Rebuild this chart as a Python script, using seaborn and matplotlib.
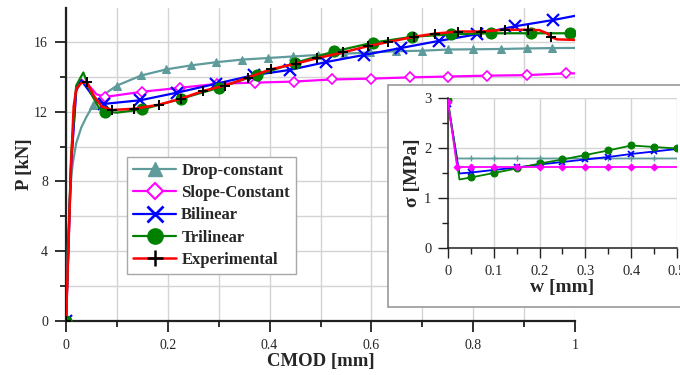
import numpy as np
import matplotlib
matplotlib.use('Agg')
import matplotlib.pyplot as plt
from matplotlib.lines import Line2D
from matplotlib.patches import Rectangle
from matplotlib.ticker import MultipleLocator, FuncFormatter
import seaborn as sns

sns.set_theme(style='white')
plt.rcParams['font.family'] = ['Liberation Serif', 'DejaVu Serif']

# ---- main chart: P vs CMOD ----
drop_x = [0, 0.004, 0.008, 0.013, 0.02, 0.03, 0.04, 0.053, 0.075, 0.1, 0.148, 0.197, 0.246,
          0.295, 0.346, 0.396, 0.446, 0.496, 0.547, 0.598, 0.649, 0.70, 0.751, 0.80, 0.854,
          0.905, 0.955, 1.0]
drop_y = [0, 4.5, 7.5, 9.0, 10.2, 11.1, 11.7, 12.36, 13.0, 13.5, 14.08, 14.43, 14.66,
          14.84, 14.99, 15.08, 15.17, 15.26, 15.33, 15.4, 15.47, 15.5, 15.57, 15.58, 15.6,
          15.63, 15.65, 15.66]
drop_mk = [0, 7] + list(range(9, 27))

slope_x = [0, 0.01, 0.02, 0.03, 0.045, 0.06, 0.077, 0.15, 0.223, 0.297, 0.371, 0.447, 0.522,
           0.6, 0.675, 0.75, 0.828, 0.905, 0.982, 1.0]
slope_y = [0, 9.0, 13.3, 13.85, 13.5, 13.0, 12.85, 13.15, 13.37, 13.6, 13.67, 13.73, 13.85,
           13.9, 13.97, 14.02, 14.07, 14.1, 14.2, 14.2]
slope_mk = [0] + list(range(6, 19))

bi_x = [0, 0.01, 0.02, 0.03, 0.045, 0.06, 0.075, 0.146, 0.219, 0.294, 0.369, 0.44, 0.511,
        0.586, 0.659, 0.732, 0.807, 0.882, 0.957, 1.0]
bi_y = [0, 9.0, 13.2, 13.8, 13.2, 12.6, 12.45, 12.66, 13.1, 13.6, 14.1, 14.4, 14.85,
        15.26, 15.66, 16.06, 16.44, 16.9, 17.26, 17.5]
bi_mk = [0] + list(range(6, 19))

tri_x = [0, 0.01, 0.02, 0.034, 0.05, 0.065, 0.077, 0.1, 0.15, 0.225, 0.3, 0.375, 0.45,
         0.527, 0.603, 0.68, 0.757, 0.834, 0.913, 0.99, 1.0]
tri_y = [0, 9.5, 13.5, 14.25, 13.0, 12.2, 12.0, 11.95, 12.13, 12.74, 13.37, 14.1, 14.8,
         15.46, 15.96, 16.3, 16.44, 16.5, 16.5, 16.5, 16.5]
tri_mk = [0, 6] + list(range(8, 20))

exp_x = [0, 0.005, 0.01, 0.015, 0.02, 0.03, 0.041, 0.055, 0.07, 0.09, 0.133, 0.182, 0.225,
         0.27, 0.312, 0.357, 0.402, 0.452, 0.493, 0.544, 0.593, 0.633, 0.684, 0.724, 0.771,
         0.815, 0.862, 0.907, 0.93, 0.945, 0.953, 0.965, 1.0]
exp_y = [0, 4.5, 9.0, 12.3, 13.3, 13.65, 13.7, 12.9, 12.3, 12.1, 12.17, 12.4, 12.74,
         13.2, 13.5, 13.96, 14.43, 14.76, 15.07, 15.4, 15.76, 16.0, 16.3, 16.48, 16.6,
         16.6, 16.7, 16.7, 16.68, 16.5, 16.28, 16.15, 16.12]
exp_mk = [0, 6] + list(range(9, 28)) + [30]

# ---- inset: sigma vs w ----
in_drop_w = [0, 0.02, 0.05, 0.1, 0.15, 0.2, 0.25, 0.3, 0.35, 0.4, 0.45, 0.5]
in_drop_s = [2.9, 1.79, 1.79, 1.79, 1.79, 1.79, 1.79, 1.79, 1.79, 1.79, 1.79, 1.79]
in_slope_w = [0, 0.02, 0.05, 0.1, 0.15, 0.2, 0.25, 0.3, 0.35, 0.4, 0.45, 0.5]
in_slope_s = [2.92, 1.62, 1.62, 1.62, 1.62, 1.62, 1.62, 1.62, 1.62, 1.62, 1.62, 1.62]
in_bi_w = [0, 0.025, 0.05, 0.1, 0.15, 0.2, 0.25, 0.3, 0.35, 0.4, 0.45, 0.5]
in_bi_s = [2.88, 1.49, 1.51, 1.56, 1.61, 1.67, 1.72, 1.77, 1.82, 1.88, 1.93, 1.98]
in_tri_w = [0, 0.025, 0.05, 0.1, 0.15, 0.2, 0.25, 0.3, 0.35, 0.4, 0.45, 0.5]
in_tri_s = [2.95, 1.37, 1.41, 1.5, 1.59, 1.69, 1.77, 1.86, 1.95, 2.05, 2.02, 1.99]

C_DROP = '#5f9b9b'
C_SLOPE = '#ff00ff'
C_BI = '#0000ff'
C_TRI = '#008000'
C_EXP = '#ff0000'
GRID = '#d4d4d4'
fmt = FuncFormatter(lambda v, p: f'{v:g}')

fig = plt.figure(figsize=(6.8, 3.75), dpi=100)
ax = fig.add_axes([0.0971, 0.144, 0.7485, 0.8347])

sns.lineplot(x=drop_x, y=drop_y, ax=ax, color=C_DROP, lw=1.6, marker='^', markersize=6,
             markevery=drop_mk, markeredgecolor=C_DROP, markerfacecolor=C_DROP, zorder=3)
sns.lineplot(x=slope_x, y=slope_y, ax=ax, color=C_SLOPE, lw=1.6, marker='D', markersize=5,
             markevery=slope_mk, markeredgecolor=C_SLOPE, markerfacecolor='white',
             markeredgewidth=1.2, zorder=3)
sns.lineplot(x=bi_x, y=bi_y, ax=ax, color=C_BI, lw=1.6, marker='x', markersize=8,
             markevery=bi_mk, markeredgecolor=C_BI, markeredgewidth=1.6, zorder=3)
sns.lineplot(x=tri_x, y=tri_y, ax=ax, color=C_TRI, lw=1.6, marker='o', markersize=8,
             markevery=tri_mk, markeredgecolor=C_TRI, markerfacecolor=C_TRI, zorder=3)
sns.lineplot(x=exp_x, y=exp_y, ax=ax, color=C_EXP, lw=1.8, marker='+', markersize=7,
             markevery=exp_mk, markeredgecolor='black', markeredgewidth=1.4, zorder=4)

ax.set_xlim(0, 1)
ax.set_ylim(0, 17.95)
ax.xaxis.set_major_locator(MultipleLocator(0.2))
ax.xaxis.set_minor_locator(MultipleLocator(0.1))
ax.yaxis.set_major_locator(MultipleLocator(4))
ax.yaxis.set_minor_locator(MultipleLocator(2))
ax.xaxis.set_major_formatter(fmt)
ax.grid(True, which='both', color=GRID, lw=1.0)
ax.set_axisbelow(True)
for s in ['top', 'right']:
    ax.spines[s].set_visible(False)
for s in ['left', 'bottom']:
    ax.spines[s].set_color('#202020')
    ax.spines[s].set_linewidth(1.6)
ax.tick_params(which='major', direction='out', length=8, width=1.3, color='#202020',
               labelsize=10, pad=5, left=True, bottom=True)
ax.tick_params(which='minor', direction='out', length=4, width=1.3, color='#202020',
               left=True, bottom=True)
ax.set_xlabel('CMOD [mm]', fontsize=13.5, fontweight='bold', labelpad=1)
ax.set_ylabel('P [kN]', fontsize=13.5, fontweight='bold', labelpad=1)

handles = [
    Line2D([], [], color=C_DROP, lw=1.6, marker='^', markersize=10, mfc=C_DROP, mec=C_DROP),
    Line2D([], [], color=C_SLOPE, lw=1.6, marker='D', markersize=8, mfc='white', mec=C_SLOPE, mew=1.5),
    Line2D([], [], color=C_BI, lw=1.6, marker='x', markersize=11, mec=C_BI, mew=2),
    Line2D([], [], color=C_TRI, lw=1.6, marker='o', markersize=11, mfc=C_TRI, mec=C_TRI),
    Line2D([], [], color=C_EXP, lw=1.8, marker='+', markersize=12, mec='black', mew=1.8),
]
labels = ['Drop-constant', 'Slope-Constant', 'Bilinear', 'Trilinear', 'Experimental']
leg = ax.legend(handles, labels, loc='upper left', bbox_to_anchor=(0.12, 0.524),
                borderaxespad=0, fancybox=False, framealpha=1, edgecolor='#a8a8a8',
                prop={'weight': 'bold', 'size': 12}, handlelength=2.6, handletextpad=0.3,
                labelspacing=0.38, borderpad=0.35)
leg.get_frame().set_linewidth(1.0)

# inset frame
fig.add_artist(Rectangle((0.5706, 0.1813), 0.44, 0.592, transform=fig.transFigure,
                         facecolor='white', edgecolor='#a0a0a0', lw=1.3, zorder=1))

ins = fig.add_axes([0.6588, 0.3387, 0.3368, 0.4])
ins.set_zorder(2)
sns.lineplot(x=in_drop_w, y=in_drop_s, ax=ins, color=C_DROP, lw=1.3, marker='+', markersize=5,
             markevery=list(range(2, 11)), markeredgecolor=C_DROP, markeredgewidth=1.0)
sns.lineplot(x=in_slope_w, y=in_slope_s, ax=ins, color=C_SLOPE, lw=1.3, marker='D', markersize=3.5,
             markevery=list(range(0, 11)), markeredgecolor=C_SLOPE, markerfacecolor=C_SLOPE)
sns.lineplot(x=in_bi_w, y=in_bi_s, ax=ins, color=C_BI, lw=1.3, marker='x', markersize=4.5,
             markevery=[0] + list(range(2, 11)), markeredgecolor=C_BI, markeredgewidth=1.3)
sns.lineplot(x=in_tri_w, y=in_tri_s, ax=ins, color=C_TRI, lw=1.3, marker='o', markersize=5,
             markevery=[0] + list(range(2, 12)), markeredgecolor=C_TRI, markerfacecolor=C_TRI)
ins.lines[1].set_zorder(3)

ins.set_xlim(0, 0.5)
ins.set_ylim(0, 3)
ins.xaxis.set_major_locator(MultipleLocator(0.1))
ins.xaxis.set_minor_locator(MultipleLocator(0.05))
ins.yaxis.set_major_locator(MultipleLocator(1))
ins.yaxis.set_minor_locator(MultipleLocator(0.5))
ins.xaxis.set_major_formatter(fmt)
ins.grid(True, which='major', color=GRID, lw=1.0)
ins.set_axisbelow(True)
ins.patch.set_alpha(0)
for s in ['top', 'right']:
    ins.spines[s].set_visible(False)
for s in ['left', 'bottom']:
    ins.spines[s].set_color('#202020')
    ins.spines[s].set_linewidth(1.1)
ins.tick_params(which='major', direction='out', length=7, width=1.0, color='#202020',
                labelsize=10.5, pad=5, left=True, bottom=True)
ins.tick_params(which='minor', direction='out', length=4, width=1.0, color='#202020',
                left=True, bottom=True)
ins.set_xlabel('w [mm]', fontsize=14, fontweight='bold', labelpad=1)
ins.set_ylabel('σ [MPa]', fontsize=14, fontweight='bold', labelpad=2)

fig.savefig('out.png', dpi=100)
